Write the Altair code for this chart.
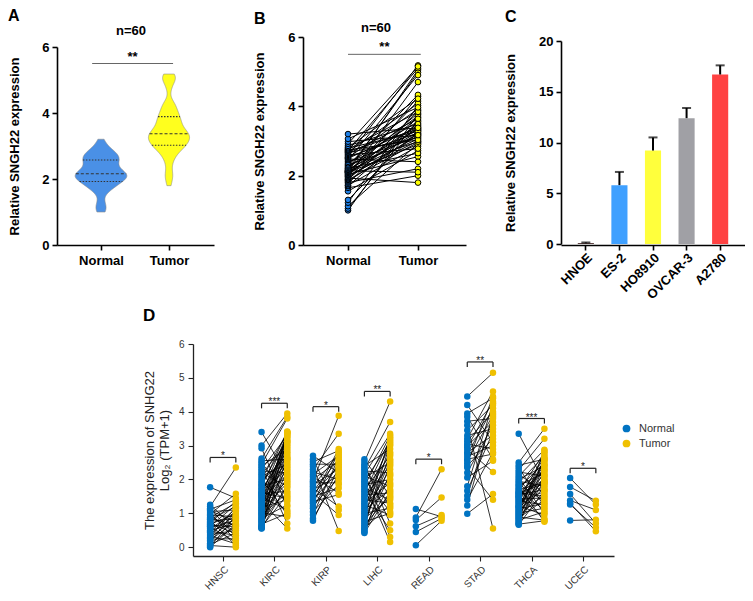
import altair as alt
import pandas as pd

FONT = "Liberation Sans"

# ---------------- Panel A / B : paired qPCR values (n = 60) ----------------
ab_groups = ["Normal", "Tumor"]
normal_expr = [1.00, 1.05, 1.12, 1.22, 1.30, 1.55, 1.65, 1.70, 1.72, 1.76,
               1.80, 1.83, 1.86, 1.88, 1.90, 1.93, 1.96, 1.98, 2.00, 2.02,
               2.04, 2.06, 2.08, 2.09, 2.10, 2.11, 2.12, 2.13, 2.14, 2.15,
               2.17, 2.19, 2.21, 2.23, 2.26, 2.29, 2.32, 2.36, 2.40, 2.45,
               2.48, 2.50, 2.52, 2.54, 2.57, 2.60, 2.63, 2.66, 2.68, 2.70,
               2.72, 2.74, 2.76, 2.79, 2.82, 2.86, 2.92, 2.98, 3.06, 3.20]
tumor_expr = [3.76, 3.60, 2.93, 4.02, 3.30, 2.72, 2.00, 3.43, 2.85, 3.88,
              2.20, 3.21, 4.28, 2.96, 3.52, 1.80, 3.15, 4.70, 3.00, 3.68,
              2.55, 3.36, 4.15, 2.90, 3.26, 5.05, 3.06, 3.80, 2.10, 3.46,
              4.98, 3.19, 2.65, 3.72, 3.32, 4.33, 2.98, 3.56, 3.12, 4.90,
              2.40, 3.40, 3.92, 3.23, 5.18, 2.78, 3.64, 3.09, 4.08, 3.34,
              5.10, 3.03, 3.84, 3.28, 4.22, 3.49, 5.15, 3.17, 3.97, 3.38]
ab_title = "n=60"
ab_stars = "**"
ab_sig_level = 5.5

# ---------------- Panel C : cell lines ----------------
cell_lines = ["HNOE", "ES-2", "HO8910", "OVCAR-3", "A2780"]
cell_means = [0.08, 5.8, 9.2, 12.4, 16.7]
cell_sd = [0.07, 1.3, 1.3, 1.0, 0.9]
cell_colors = ["#3a1a1a", "#3FA0FF", "#FFFF3C", "#A0A0A5", "#FF4242"]

# ---------------- Panel D : TCGA paired samples ----------------
cancers = ["HNSC", "KIRC", "KIRP", "LIHC", "READ", "STAD", "THCA", "UCEC"]
hnsc_normal = [1.77, 1.25, 1.20, 1.15, 1.12, 1.08, 1.05, 1.02, 0.98, 0.95,
               0.92, 0.88, 0.85, 0.82, 0.80, 0.76, 0.73, 0.70, 0.68, 0.65,
               0.62, 0.60, 0.57, 0.54, 0.50, 0.47, 0.44, 0.40, 0.37, 0.34,
               0.30, 0.27, 0.24, 0.20, 0.16, 0.12, 0.08, 0.05, 0.02, 0.00]
hnsc_tumor = [1.45, 0.55, 2.35, 0.30, 1.40, 0.75, 1.10, 0.20, 1.58, 0.90,
              0.45, 1.30, 0.65, 1.20, 0.05, 0.85, 1.35, 0.40, 0.98, 0.60,
              1.25, 0.15, 0.80, 1.05, 0.70, 0.35, 1.15, 0.95, 0.50, 0.10,
              1.18, 0.88, 0.25, 0.78, 1.08, 0.62, 0.42, 0.00, 0.92, 0.68]
kirc_normal = [3.40, 3.00, 2.92, 2.62, 2.55, 2.50, 2.45, 2.40, 2.35, 2.30,
               2.25, 2.20, 2.15, 2.10, 2.05, 2.00, 1.95, 1.90, 1.86, 1.82,
               1.78, 1.74, 1.70, 1.66, 1.62, 1.58, 1.55, 1.52, 1.48, 1.45,
               1.42, 1.38, 1.35, 1.32, 1.28, 1.25, 1.22, 1.18, 1.15, 1.12,
               1.08, 1.05, 1.02, 0.98, 0.95, 0.92, 0.88, 0.85, 0.82, 0.78,
               0.75, 0.72, 0.68, 0.65, 0.62, 0.60, 0.58, 0.56, 0.55, 1.60]
kirc_tumor = [2.10, 3.95, 1.20, 3.85, 2.60, 1.50, 3.80, 2.90, 0.70, 3.30,
              2.20, 1.80, 3.10, 2.45, 0.95, 3.40, 2.70, 1.35, 3.20, 2.00,
              3.42, 1.05, 2.85, 2.30, 3.00, 1.65, 3.35, 2.55, 1.10, 3.15,
              2.15, 2.75, 0.55, 3.25, 1.95, 2.50, 3.05, 1.40, 2.65, 3.39,
              1.90, 2.35, 0.90, 2.95, 1.60, 3.36, 2.05, 1.25, 2.80, 3.38,
              1.75, 2.40, 1.00, 3.12, 2.25, 1.55, 2.62, 1.85, 3.28, 1.45]
kirp_normal = [2.70, 2.60, 2.52, 2.45, 2.38, 2.30, 2.22, 2.15, 2.08, 2.00,
               1.95, 1.90, 1.85, 1.80, 1.75, 1.70, 1.65, 1.60, 1.55, 1.50,
               1.45, 1.40, 1.35, 1.30, 1.22, 1.15, 1.05, 0.95, 0.85, 0.78]
kirp_tumor = [2.20, 1.10, 2.85, 2.45, 0.48, 3.35, 2.00, 2.70, 1.60, 2.55,
              3.88, 1.90, 2.30, 2.75, 1.20, 2.10, 2.60, 0.95, 2.40, 1.75,
              2.90, 2.25, 1.55, 2.80, 2.05, 2.50, 1.85, 2.65, 2.15, 2.35]
lihc_normal = [2.60, 2.52, 2.45, 2.40, 2.35, 2.30, 2.25, 2.20, 2.15, 2.10,
               2.05, 2.00, 1.95, 1.90, 1.85, 1.80, 1.75, 1.70, 1.65, 1.60,
               1.55, 1.50, 1.45, 1.40, 1.35, 1.30, 1.25, 1.20, 1.15, 1.10,
               1.05, 1.00, 0.95, 0.90, 0.85, 0.80, 0.75, 0.70, 0.65, 0.60,
               0.56, 0.52, 0.48, 0.45, 0.42]
lihc_tumor = [1.50, 4.30, 0.70, 2.90, 1.20, 3.70, 2.20, 0.30, 3.35, 1.80,
              2.50, 1.05, 3.10, 0.15, 2.00, 3.30, 1.40, 2.70, 0.50, 3.20,
              1.60, 2.40, 3.00, 1.30, 2.80, 1.90, 0.95, 2.60, 3.15, 1.70,
              2.30, 1.15, 2.10, 3.25, 1.45, 2.55, 1.00, 2.75, 1.55, 3.05,
              1.25, 2.15, 1.85, 2.45, 1.65]
read_normal = [1.13, 0.88, 0.80, 0.62, 0.45, 0.06]
read_tumor = [0.90, 2.30, 1.47, 0.95, 0.85, 0.78]
stad_normal = [4.45, 4.20, 3.95, 3.85, 3.72, 3.60, 3.45, 3.30, 3.20, 3.13,
               3.05, 3.00, 2.95, 2.88, 2.80, 2.75, 2.68, 2.60, 2.55, 2.48,
               2.40, 2.35, 2.20, 2.06, 1.80, 1.67, 1.52, 1.40, 1.23, 0.99]
stad_tumor = [5.15, 3.10, 4.40, 2.60, 3.80, 0.55, 4.20, 3.50, 4.60, 4.00,
              2.90, 3.70, 4.30, 2.22, 3.30, 4.10, 3.00, 2.75, 3.90, 4.45,
              3.20, 1.40, 3.60, 2.55, 4.25, 3.40, 3.85, 2.80, 3.95, 1.57]
thca_normal = [3.35, 2.50, 2.42, 2.35, 2.28, 2.22, 2.16, 2.10, 2.05, 2.00,
               1.95, 1.90, 1.86, 1.82, 1.78, 1.74, 1.70, 1.67, 1.64, 1.61,
               1.58, 1.55, 1.52, 1.49, 1.46, 1.43, 1.40, 1.37, 1.34, 1.31,
               1.28, 1.25, 1.22, 1.19, 1.16, 1.13, 1.10, 1.07, 1.04, 1.01,
               0.98, 0.95, 0.92, 0.89, 0.86, 0.83, 0.80, 0.77, 0.74, 0.71,
               0.68, 0.66, 1.50, 1.60, 1.20]
thca_tumor = [1.92, 3.50, 2.60, 1.20, 3.20, 2.10, 1.60, 2.88, 1.00, 2.40,
              1.80, 2.70, 1.35, 2.20, 0.75, 2.50, 1.90, 1.10, 2.80, 1.50,
              2.30, 1.70, 2.00, 0.85, 2.65, 1.45, 2.15, 1.25, 2.75, 1.65,
              1.95, 2.45, 0.95, 2.35, 1.85, 1.30, 2.55, 1.75, 2.05, 1.15,
              2.85, 1.55, 2.25, 0.80, 1.40, 2.62, 1.05, 2.12, 1.97, 2.42,
              0.78, 1.68, 2.28, 1.88, 2.58]
ucec_normal = [2.04, 1.78, 1.57, 1.38, 1.30, 1.26, 0.79]
ucec_tumor = [1.26, 1.37, 0.70, 1.10, 0.47, 0.58, 0.81]
d_bracket_level = [2.65, 4.25, 4.15, 4.60, 2.60, 5.47, 3.80, 2.33]
d_stars = ["*", "***", "*", "**", "*", "**", "***", "*"]
d_group_colors = ["#0073C2", "#EFC000"]

# ======================= tables =======================
ab_df = pd.DataFrame({
    "pid": list(range(len(normal_expr))) * 2,
    "group": [ab_groups[0]] * len(normal_expr) + [ab_groups[1]] * len(tumor_expr),
    "gx": [0] * len(normal_expr) + [1] * len(tumor_expr),
    "value": normal_expr + tumor_expr,
})

c_df = pd.DataFrame({"cell": cell_lines, "mean": cell_means, "sd": cell_sd})

d_normals = [hnsc_normal, kirc_normal, kirp_normal, lihc_normal,
             read_normal, stad_normal, thca_normal, ucec_normal]
d_tumors = [hnsc_tumor, kirc_tumor, kirp_tumor, lihc_tumor,
            read_tumor, stad_tumor, thca_tumor, ucec_tumor]
rows = []
for ci, (cn, nl, tl) in enumerate(zip(cancers, d_normals, d_tumors)):
    for k, (nv, tv) in enumerate(zip(nl, tl)):
        pid = f"{cn}_{k}"
        rows.append({"cancer": cn, "ci": ci, "pid": pid, "group": "Normal", "side": -1, "value": nv})
        rows.append({"cancer": cn, "ci": ci, "pid": pid, "group": "Tumor", "side": 1, "value": tv})
d_df = pd.DataFrame(rows)
d_br = pd.DataFrame({"cancer": cancers, "ci": list(range(len(cancers))),
                     "h": d_bracket_level, "stars": d_stars})


def txt(text, x, y, size, weight="bold", align="left", baseline="alphabetic", color="black"):
    return alt.Chart(pd.DataFrame({"t": [text]})).mark_text(
        font=FONT, fontSize=size, fontWeight=weight, align=align,
        baseline=baseline, color=color
    ).encode(text="t:N", x=alt.value(x), y=alt.value(y))


def bold_axis(**kw):
    base = dict(labelFont=FONT, labelFontWeight="bold", labelFontSize=13,
                labelColor="black", domainColor="black", domainWidth=1.6,
                tickColor="black", tickWidth=1.6, tickSize=5, grid=False,
                titleFont=FONT, titleFontWeight="bold", titleFontSize=13,
                titleColor="black", labelPadding=3)
    base.update(kw)
    return alt.Axis(**base)


TOP_H = 208

# ======================= Panel A =======================
xA = alt.Scale(domain=[-0.647, 1.662], range=[0, 157], nice=False, zero=False)
yA = alt.Scale(domain=[0, 6], range=[TOP_H, 10], nice=False, zero=False)
axAx = bold_axis(values=[0, 1], labelExpr="datum.value == 0 ? 'Normal' : 'Tumor'",
                 title=None, labelPadding=4)
axAy = bold_axis(values=[0, 2, 4, 6], title="Relative SNGH22 expression", titlePadding=20)
K = 0.44

vbase = alt.Chart(ab_df).transform_joinaggregate(
    q1="q1(value)", med="median(value)", q3="q3(value)",
    vmin="min(value)", vmax="max(value)", groupby=["group"]
).transform_density(
    "value", groupby=["group", "gx", "q1", "med", "q3", "vmin", "vmax"],
    extent=[0.9, 5.3], steps=441, bandwidth=0.16, as_=["y", "density"]
).transform_filter(
    "datum.y >= datum.vmin - 0.006 && datum.y <= datum.vmax + 0.006"
).transform_calculate(
    left=f"datum.gx - datum.density * {K}", right=f"datum.gx + datum.density * {K}"
)

violin = vbase.mark_area(orient="horizontal", stroke="#8a8a8a", strokeWidth=0.6).encode(
    y=alt.Y("y:Q", scale=yA, axis=axAy),
    x=alt.X("left:Q", scale=xA, axis=axAx),
    x2="right:Q",
    color=alt.Color("group:N", scale=alt.Scale(domain=ab_groups, range=["#4A90E6", "#FFFF1E"]), legend=None),
)
quart = vbase.transform_fold(["q1", "med", "q3"], as_=["stat", "sval"]).transform_calculate(
    d="abs(datum.y - datum.sval)"
).transform_window(
    rk="row_number()", sort=[alt.SortField("d", order="ascending")], groupby=["group", "stat"]
).transform_filter("datum.rk == 1").mark_rule(color="#333333", strokeWidth=1.1).encode(
    y=alt.Y("sval:Q", scale=yA, axis=axAy),
    x=alt.X("left:Q", scale=xA, axis=axAx),
    x2="right:Q",
    strokeDash=alt.StrokeDash("stat:N", scale=alt.Scale(domain=["q1", "med", "q3"],
                              range=[[1.5, 1.5], [3, 2], [1.5, 1.5]]), legend=None),
)
sigA = alt.Chart(pd.DataFrame({"x1": [-0.13], "x2": [1.06], "y": [ab_sig_level], "s": [ab_stars]}))
sigA_line = sigA.mark_rule(color="#666666", strokeWidth=1).encode(
    x=alt.X("x1:Q", scale=xA, axis=axAx), x2="x2:Q", y=alt.Y("y:Q", scale=yA, axis=axAy))
sigA_txt = sigA.transform_calculate(xm="(datum.x1 + datum.x2) / 2").mark_text(
    font=FONT, fontSize=13, fontWeight="bold", dy=-3, baseline="alphabetic").encode(
    x=alt.X("xm:Q", scale=xA, axis=axAx), y=alt.Y("y:Q", scale=yA, axis=axAy), text="s:N")

chartA = alt.layer(
    violin, quart, sigA_line, sigA_txt,
    txt(ab_title, 74, -6, 13, align="center", baseline="middle"),
    txt("A", -49, -16, 16),
).properties(width=246, height=TOP_H)

# ======================= Panel B =======================
xB = alt.Scale(domain=[-0.643, 1.686], range=[0, 163], nice=False, zero=False)
yB = alt.Scale(domain=[0, 6], range=[TOP_H, 0], nice=False, zero=False)
axBx = bold_axis(values=[0, 1], labelExpr="datum.value == 0 ? 'Normal' : 'Tumor'",
                 title=None, labelPadding=4)
axBy = bold_axis(values=[0, 2, 4, 6], title="Relative SNGH22 expression", titlePadding=21)

linesB = alt.Chart(ab_df).mark_line(color="black", strokeWidth=1).encode(
    x=alt.X("gx:Q", scale=xB, axis=axBx), y=alt.Y("value:Q", scale=yB, axis=axBy),
    detail="pid:N")
ptsB = alt.Chart(ab_df).mark_circle(size=32, opacity=1, stroke="black", strokeWidth=1).encode(
    x=alt.X("gx:Q", scale=xB, axis=axBx), y=alt.Y("value:Q", scale=yB, axis=axBy),
    color=alt.Color("group:N", scale=alt.Scale(domain=ab_groups, range=["#1E7FE6", "#FFFF00"]), legend=None))
sigB = alt.Chart(pd.DataFrame({"x1": [0.0], "x2": [1.04], "y": [ab_sig_level], "s": [ab_stars]}))
sigB_line = sigB.mark_rule(color="#666666", strokeWidth=1).encode(
    x=alt.X("x1:Q", scale=xB, axis=axBx), x2="x2:Q", y=alt.Y("y:Q", scale=yB, axis=axBy))
sigB_txt = sigB.transform_calculate(xm="(datum.x1 + datum.x2) / 2").mark_text(
    font=FONT, fontSize=13, fontWeight="bold", dy=-3, baseline="alphabetic").encode(
    x=alt.X("xm:Q", scale=xB, axis=axBx), y=alt.Y("y:Q", scale=yB, axis=axBy), text="s:N")

chartB = alt.layer(
    linesB, ptsB, sigB_line, sigB_txt,
    txt(ab_title, 73, -9, 13, align="center", baseline="middle"),
    txt("B", -49, -13, 16),
).properties(width=258, height=TOP_H)

# ======================= Panel C =======================
xC = alt.Scale(domain=cell_lines, range=[0, 184], paddingInner=0.52, paddingOuter=0.5)
yC = alt.Scale(domain=[0, 20], range=[TOP_H - 1, 4], nice=False, zero=False)
axCx = bold_axis(title=None, labelAngle=-45, labelPadding=1)
axCy = bold_axis(values=[0, 5, 10, 15, 20], title="Relative SNGH22 expression", titlePadding=21)

baseC = alt.Chart(c_df).transform_calculate(upper="datum.mean + datum.sd")
barsC = baseC.mark_bar().encode(
    x=alt.X("cell:N", scale=xC, axis=axCx, sort=cell_lines),
    y=alt.Y("mean:Q", scale=yC, axis=axCy),
    color=alt.Color("cell:N", scale=alt.Scale(domain=cell_lines, range=cell_colors), legend=None))
errC = baseC.mark_rule(color="black", strokeWidth=2).encode(
    x=alt.X("cell:N", scale=xC, axis=axCx, sort=cell_lines),
    y=alt.Y("mean:Q", scale=yC, axis=axCy), y2="upper:Q")
capC = baseC.mark_tick(color="black", thickness=2, size=9).encode(
    x=alt.X("cell:N", scale=xC, axis=axCx, sort=cell_lines),
    y=alt.Y("upper:Q", scale=yC, axis=axCy))

chartC = alt.layer(barsC, errC, capC, txt("C", -56, -15, 16)).properties(width=184, height=TOP_H)

# ======================= Panel D =======================
D_W, D_H = 421, 212
xD = alt.Scale(domain=[-0.583, 7.603], nice=False, zero=False)
yD = alt.Scale(domain=[-0.26, 6], nice=False, zero=False)
label_expr = "[" + ",".join(f"'{c}'" for c in cancers) + "][datum.value]"
axDx = alt.Axis(values=list(range(len(cancers))), labelExpr=label_expr, title=None,
                labelAngle=-45, labelFont=FONT, labelFontSize=10, labelColor="#333333",
                domainColor="#222222", domainWidth=1.3, tickColor="#222222", tickWidth=1.1,
                tickSize=5, grid=False, labelPadding=3)
axDy = alt.Axis(values=[0, 1, 2, 3, 4, 5, 6], title=["The expression of SNHG22", "Log\u2082 (TPM+1)"],
                labelFont=FONT, labelFontSize=10, labelColor="#333333",
                domainColor="#222222", domainWidth=1.3, tickColor="#222222", tickWidth=1.1,
                tickSize=5, grid=False, labelPadding=4, titleFont=FONT, titleFontSize=13,
                titleFontWeight="normal", titleColor="#222222", titlePadding=7, titleLineHeight=15)

baseD = alt.Chart(d_df).transform_calculate(xp="datum.ci + 0.25 * datum.side")
linesD = baseD.mark_line(color="black", strokeWidth=0.8).encode(
    x=alt.X("xp:Q", scale=xD, axis=axDx), y=alt.Y("value:Q", scale=yD, axis=axDy), detail="pid:N")
ptsD = baseD.mark_circle(size=42, opacity=1).encode(
    x=alt.X("xp:Q", scale=xD, axis=axDx), y=alt.Y("value:Q", scale=yD, axis=axDy),
    color=alt.Color("group:N", scale=alt.Scale(domain=ab_groups, range=d_group_colors),
                    legend=alt.Legend(title=None, orient="none", legendX=564, legendY=79,
                                      labelFont=FONT, labelFontSize=11, labelColor="#333333",
                                      symbolType="circle", symbolSize=60, rowPadding=3,
                                      labelOffset=7)))
brD = alt.Chart(d_br).transform_calculate(
    xl="datum.ci - 0.25", xr="datum.ci + 0.25", hl="datum.h - 0.15")
brH = brD.mark_rule(color="#222222", strokeWidth=1.2).encode(
    x=alt.X("xl:Q", scale=xD, axis=axDx), x2="xr:Q", y=alt.Y("h:Q", scale=yD, axis=axDy))
brL = brD.mark_rule(color="#222222", strokeWidth=1.2).encode(
    x=alt.X("xl:Q", scale=xD, axis=axDx), y=alt.Y("h:Q", scale=yD, axis=axDy), y2="hl:Q")
brR = brD.mark_rule(color="#222222", strokeWidth=1.2).encode(
    x=alt.X("xr:Q", scale=xD, axis=axDx), y=alt.Y("h:Q", scale=yD, axis=axDy), y2="hl:Q")
starD = brD.mark_text(font=FONT, fontSize=10, color="#222222", dy=2, baseline="alphabetic").encode(
    x=alt.X("ci:Q", scale=xD, axis=axDx), y=alt.Y("h:Q", scale=yD, axis=axDy), text="stars:N")

chartD = alt.layer(linesD, ptsD, brH, brL, brR, starD, txt("D", -50, -23, 17)).properties(
    width=D_W, height=D_H)

spacer = alt.Chart(pd.DataFrame({"t": [""]})).mark_text().encode(
    text="t:N", x=alt.value(0), y=alt.value(0)).properties(width=136, height=10)

top = alt.hconcat(chartA, chartB, chartC, spacing=0, bounds="flush").resolve_scale(
    color="independent", strokeDash="independent")
bottom = alt.hconcat(spacer, chartD, spacing=0, bounds="flush")
# nested concat groups report no height under "flush", so the gap includes the top row height
chart = alt.vconcat(top, bottom, spacing=TOP_H + 99, bounds="flush", padding=0).resolve_scale(
    color="independent", strokeDash="independent").configure(font=FONT).configure_view(
    strokeWidth=0, strokeOpacity=0)

chart.save("out.html", embed_options={"renderer": "svg", "actions": False})
